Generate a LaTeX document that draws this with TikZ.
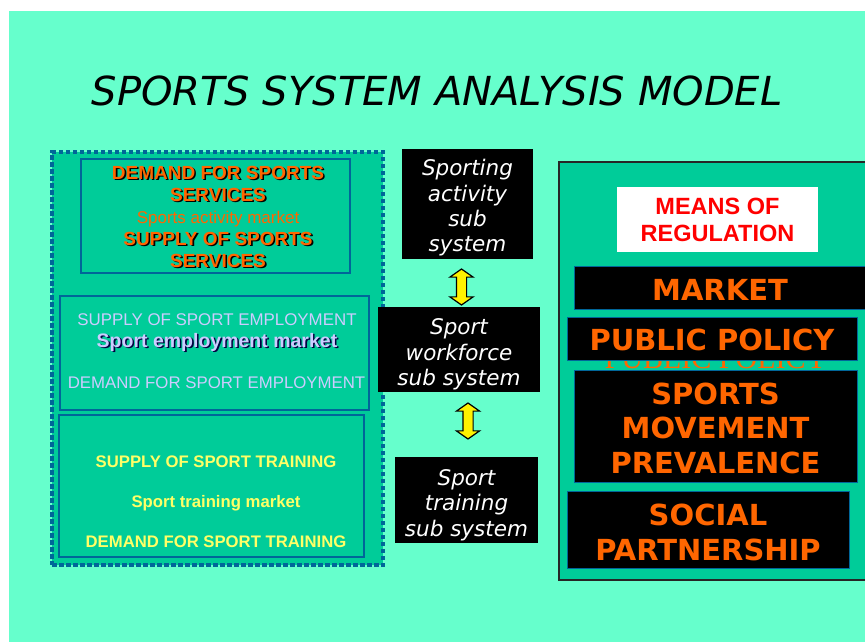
\documentclass[tikz,border=0pt]{standalone}
\usepackage{fontspec}
\setmainfont{Liberation Sans}
\newfontfamily\verdana{DejaVu Sans}
\newfontfamily\serifrm{Liberation Serif}
\usetikzlibrary{shapes.arrows}

\definecolor{mint}{HTML}{66FFCC}
\definecolor{panel}{HTML}{00CC99}
\definecolor{edgeblue}{HTML}{006699}
\definecolor{ornge}{HTML}{FF6600}
\definecolor{lemon}{HTML}{FFFF66}
\definecolor{lilac}{HTML}{CCCCFF}

% text with a dark drop shadow
\newcommand\shd[2][black]{\makebox[0pt][l]{\hspace*{1.6pt}\raisebox{-1.6pt}{\color{#1}#2}}#2}

\begin{document}
\begin{tikzpicture}[x=1pt,y=-1pt,
  mkt/.style={draw=edgeblue,line width=1.5pt,fill=panel,inner sep=0pt},
  sub/.style={fill=black,inner sep=0pt},
  subtxt/.style={text=white,inner sep=0pt,align=center,
    font=\verdana\itshape\fontsize{21.5}{25.3}\selectfont},
  means/.style={fill=black,draw=edgeblue,line width=1pt,inner sep=0pt},
  meanstxt/.style={text=ornge,inner sep=0pt,align=center,
    font=\verdana\bfseries\fontsize{29}{34.5}\selectfont},
  updown/.style={double arrow,draw=black,fill=yellow,line width=1.2pt,rotate=90,inner sep=4.5pt,
    minimum height=36pt,double arrow head extend=6.5pt,double arrow tip angle=110}]
  \useasboundingbox (0,0) rectangle (865,642);
  \clip (0,0) rectangle (865,642);
  \fill[white] (0,0) rectangle (865,642);
  \fill[mint] (9,11) rectangle (865,642);

  \node[font=\verdana\itshape\fontsize{40}{48}\selectfont] (title) at (437,91)
    {SPORTS SYSTEM ANALYSIS MODEL};

  % markets
  \node[draw=edgeblue,fill=panel,line width=4pt,dash pattern=on 4.5pt off 2.5pt,
    minimum width=331pt,minimum height=413pt,inner sep=0pt] (frame) at (217.5,358.5) {};
  \node[mkt,minimum width=269pt,minimum height=114pt] (actmkt) at (215.5,216) {};
  \node[mkt,minimum width=309pt,minimum height=114pt] (empmkt) at (214.5,353) {};
  \node[mkt,minimum width=305pt,minimum height=142pt] (trnmkt) at (211.5,486) {};

  \node[text=ornge,align=center,font=\bfseries\fontsize{19}{22}\selectfont] (acttxt) at (218,217.5)
    {\shd{DEMAND FOR SPORTS}\\ \shd{SERVICES}\\
     {\mdseries\fontsize{17}{22}\selectfont Sports activity market}\\
     \shd{SUPPLY OF SPORTS}\\ \shd{SERVICES}};
  \node[text=lilac,font=\fontsize{16.9}{20}\selectfont] (emp1) at (217,320) {SUPPLY OF SPORT EMPLOYMENT};
  \node[text=lilac,font=\bfseries\fontsize{19.5}{22}\selectfont] (emp2) at (217,343)
    {\shd[black!75!blue]{Sport employment market}};
  \node[text=lilac,font=\fontsize{16.8}{20}\selectfont] (emp3) at (216.5,383) {DEMAND FOR SPORT EMPLOYMENT};
  \node[text=lemon,align=center,font=\bfseries\fontsize{16.7}{40}\selectfont] (trntxt) at (216,502)
    {SUPPLY OF SPORT TRAINING\\ Sport training market\\ DEMAND FOR SPORT TRAINING};

  % sub systems
  \node[sub,minimum width=131pt,minimum height=110pt] (act) at (467.5,204) {};
  \node[sub,minimum width=162pt,minimum height=85pt] (work) at (459,349.5) {};
  \node[sub,minimum width=143pt,minimum height=86pt] (train) at (466.5,500) {};
  \node[subtxt] (acttxt) at ([yshift=-4pt]act.center) {Sporting\\activity\\sub\\system};
  \node[subtxt] (worktxt) at ([yshift=-5pt]work.center) {Sport\\workforce\\sub system};
  \node[subtxt] (traintxt) at ([yshift=-5pt]train.center) {Sport\\training\\sub system};
  \node[updown] (a1) at (461.5,287) {};
  \node[updown] (a2) at (468,421) {};

  % regulation
  \node[draw=black!85,line width=1.2pt,fill=panel,minimum width=346pt,minimum height=418pt] (reg) at (732,371) {};
  \node[fill=white,text=red,align=center,minimum width=201pt,minimum height=65pt,inner sep=0pt,
    font=\bfseries\fontsize{23.5}{27}\selectfont] (means) at (717.5,219.5) {MEANS OF\\REGULATION};
  \node[text=ornge,anchor=base,font=\serifrm\fontsize{30}{34}\selectfont] (policy2) at (716,368) {PUBLIC POLICY};
  \node[means,minimum width=292pt,minimum height=43pt] (market) at (720,287.5) {};
  \node[means,minimum width=290pt,minimum height=43pt] (policy) at (712,338.5) {};
  \node[means,minimum width=283pt,minimum height=112pt] (move) at (715.5,426) {};
  \node[means,minimum width=282pt,minimum height=77pt] (social) at (708,529.5) {};
  \node[meanstxt] (markettxt) at ([yshift=-2.5pt]market.center) {MARKET};
  \node[meanstxt] (policytxt) at ([yshift=-1.5pt]policy.center) {PUBLIC POLICY};
  \node[meanstxt] (movetxt) at ([yshift=-2pt]move.center) {SPORTS\\MOVEMENT\\PREVALENCE};
  \node[meanstxt] (socialtxt) at ([yshift=-3pt]social.center) {SOCIAL\\PARTNERSHIP};
\end{tikzpicture}
\end{document}
